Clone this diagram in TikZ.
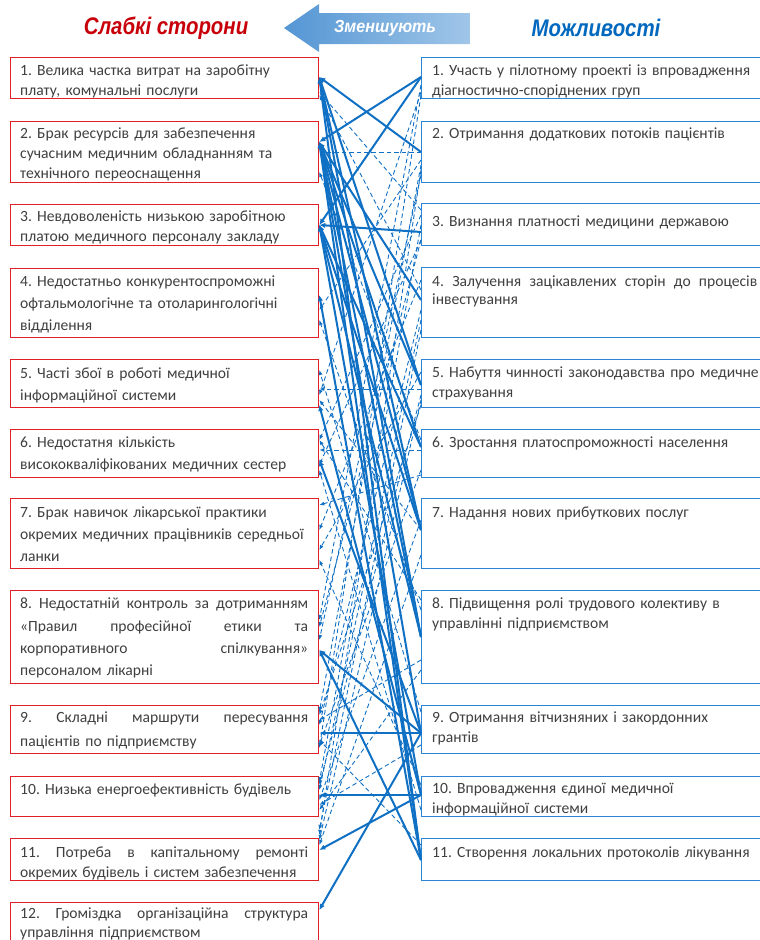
\documentclass[tikz,border=0pt]{standalone}
\usepackage{fontspec}
\setmainfont{Carlito}
\newfontfamily\titlef[FakeStretch=0.85]{Liberation Sans}
\newfontfamily\arrowf[FakeStretch=0.92]{Liberation Sans}
\usetikzlibrary{arrows.meta,calc}
\definecolor{lred}{RGB}{224,32,40}
\definecolor{rblue}{RGB}{44,132,214}
\definecolor{lnk}{RGB}{16,112,196}
\definecolor{txt}{RGB}{64,64,64}
\definecolor{tred}{RGB}{200,0,10}
\definecolor{tblue}{RGB}{0,104,190}
\definecolor{arL}{RGB}{84,150,212}
\definecolor{arR}{RGB}{160,198,232}
\frenchspacing
\tikzset{
  lbox/.style={draw=lred, line width=1.3pt, anchor=north west, minimum width=308pt, inner sep=0pt},
  rbox/.style={draw=rblue, line width=1.3pt, anchor=north west, minimum width=360pt, inner sep=0pt},
  btext/.style={anchor=north west, inner sep=0pt, align=left, text=txt,
     font=\fontsize{15.6}{20}\selectfont, execute at begin node=\rule{0pt}{13pt}},
  ltext/.style={btext, text width=300pt},
  rtext/.style={btext, text width=340pt},
  wide/.style={font=\fontsize{15.6}{22.3}\selectfont},
  sol/.style={draw=lnk, line width=2pt, -{Latex[length=6pt,width=5.5pt]}},
  dsh/.style={draw=lnk, line width=0.9pt, dash pattern=on 4.5pt off 3pt, -{Latex[length=5pt,width=4pt]}},
  ttl/.style={font=\titlef\bfseries\itshape\fontsize{24}{26}\selectfont, inner sep=0pt}
}
\newcommand{\linkS}[4]{\draw[sol] (r#1.west |- 0,#2) -- (l#3.east |- 0,#4);}
\newcommand{\linkD}[4]{\draw[dsh] (r#1.west |- 0,#2) -- (l#3.east |- 0,#4);}
\newcommand{\LJ}[1]{{\spaceskip=0.3333em plus 10em\makebox[288pt][s]{#1}}}
\newcommand{\RJ}[1]{{\spaceskip=0.3333em plus 10em\makebox[325pt][s]{#1}}}
\begin{document}
\begin{tikzpicture}[x=1pt,y=-1pt]
\useasboundingbox (0,0) rectangle (760,940);
\fill[white] (0,0) rectangle (760,940);
\clip (0,0) rectangle (760,940);
% titles
\node[ttl, text=tred] (tw) at (166,28) {Слабкі сторони};
\node[ttl, text=tblue] (to) at (596,28) {Можливості};
\shade[left color=arL, right color=arR, draw=none]
  (284,28) -- (319,4) -- (319,13) -- (470,13) -- (470,44) -- (319,44) -- (319,52) -- cycle;
\node[font=\arrowf\bfseries\itshape\fontsize{17.5}{19}\selectfont, text=white, inner sep=0pt] (tz) at (385,28) {Зменшують};
% left boxes
\node[lbox, minimum height=41pt] (l1) at (10,57) {};
\node[lbox, minimum height=61pt] (l2) at (10,121) {};
\node[lbox, minimum height=41pt] (l3) at (10,204) {};
\node[lbox, minimum height=69pt] (l4) at (10,268) {};
\node[lbox, minimum height=48pt] (l5) at (10,359) {};
\node[lbox, minimum height=48pt] (l6) at (10,429) {};
\node[lbox, minimum height=70pt] (l7) at (10,498) {};
\node[lbox, minimum height=93pt] (l8) at (10,590) {};
\node[lbox, minimum height=48pt] (l9) at (10,705) {};
\node[lbox, minimum height=40pt] (l10) at (10,776) {};
\node[lbox, minimum height=42pt] (l11) at (10,838) {};
\node[lbox, minimum height=60pt] (l12) at (10,902) {};
% right boxes
\node[rbox, minimum height=41pt] (r1) at (421,57) {};
\node[rbox, minimum height=61pt] (r2) at (421,121) {};
\node[rbox, minimum height=42pt] (r3) at (421,203) {};
\node[rbox, minimum height=70pt] (r4) at (421,267) {};
\node[rbox, minimum height=48pt] (r5) at (421,359) {};
\node[rbox, minimum height=48pt] (r6) at (421,429) {};
\node[rbox, minimum height=70pt] (r7) at (421,498) {};
\node[rbox, minimum height=93pt] (r8) at (421,590) {};
\node[rbox, minimum height=48pt] (r9) at (421,705) {};
\node[rbox, minimum height=40pt] (r10) at (421,776) {};
\node[rbox, minimum height=42pt] (r11) at (421,838) {};
% left texts
\node[ltext] (lt1) at ($(l1.north west)+(10,5)$) {1. Велика частка витрат на заробітну\\плату, комунальні послуги};
\node[ltext] (lt2) at ($(l2.north west)+(10,4)$) {2. Брак ресурсів для забезпечення\\сучасним медичним обладнанням та\\технічного переоснащення};
\node[ltext] (lt3) at ($(l3.north west)+(10,4)$) {3. Невдоволеність низькою заробітною\\платою медичного персоналу закладу};
\node[ltext, wide] (lt4) at ($(l4.north west)+(10,5)$) {4. Недостатньо конкурентоспроможні\\офтальмологічне та отоларингологічні\\відділення};
\node[ltext, wide] (lt5) at ($(l5.north west)+(10,6)$) {5. Часті збої в роботі медичної\\інформаційної системи};
\node[ltext, wide] (lt6) at ($(l6.north west)+(10,5)$) {6. Недостатня кількість\\висококваліфікованих медичних сестер};
\node[ltext, wide] (lt7) at ($(l7.north west)+(10,6)$) {7. Брак навичок лікарської практики\\окремих медичних працівників середньої\\ланки};
\node[ltext, wide] (lt8) at ($(l8.north west)+(10,5.5)$) {\LJ{8. Недостатній контроль за дотриманням}\\\LJ{«Правил професійної етики та}\\\LJ{корпоративного спілкування»}\\персоналом лікарні};
\node[ltext, font=\fontsize{15.6}{24}\selectfont] (lt9) at ($(l9.north west)+(10,4)$) {\LJ{9. Складні маршрути пересування}\\пацієнтів по підприємству};
\node[ltext] (lt10) at ($(l10.north west)+(10,5)$) {10. Низька енергоефективність будівель};
\node[ltext] (lt11) at ($(l11.north west)+(10,6)$) {\LJ{11. Потреба в капітальному ремонті}\\окремих будівель і систем забезпечення};
\node[ltext, font=\fontsize{15.6}{19}\selectfont] (lt12) at ($(l12.north west)+(10,3.5)$) {\LJ{12. Громіздка організаційна структура}\\управління підприємством};
% right texts
\node[rtext] (rt1) at ($(r1.north west)+(11,5)$) {1. Участь у пілотному проекті із впровадження\\діагностично-споріднених груп};
\node[rtext] (rt2) at ($(r2.north west)+(11,4)$) {2. Отримання додаткових потоків пацієнтів};
\node[rtext] (rt3) at ($(r3.north west)+(11,10.5)$) {3. Визнання платності медицини державою};
\node[rtext, font=\fontsize{15.6}{18.5}\selectfont] (rt4) at ($(r4.north west)+(11,6)$) {\RJ{4. Залучення зацікавлених сторін до процесів}\\інвестування};
\node[rtext] (rt5) at ($(r5.north west)+(11,5)$) {5. Набуття чинності законодавства про медичне\\страхування};
\node[rtext] (rt6) at ($(r6.north west)+(11,5)$) {6. Зростання платоспроможності населення};
\node[rtext] (rt7) at ($(r7.north west)+(11,6)$) {7. Надання нових прибуткових послуг};
\node[rtext] (rt8) at ($(r8.north west)+(11,5.5)$) {8. Підвищення ролі трудового колективу в\\управлінні підприємством};
\node[rtext] (rt9) at ($(r9.north west)+(11,4)$) {9. Отримання вітчизняних і закордонних\\грантів};
\node[rtext] (rt10) at ($(r10.north west)+(11,4)$) {10. Впровадження єдиної медичної\\інформаційної системи};
\node[rtext] (rt11) at ($(r11.north west)+(11,6)$) {11. Створення локальних протоколів лікування};
% dashed links
\linkD{2}{152}{2}{152}
\linkD{5}{389}{5}{389}
\linkD{6}{450}{6}{450}
\linkD{2}{160}{4}{310}
\linkD{3}{215}{6}{440}
\linkD{1}{92}{5}{395}
\linkD{4}{280}{7}{530}
\linkD{5}{372}{7}{550}
\linkD{3}{240}{8}{627}
\linkD{6}{470}{9}{745}
\linkD{4}{320}{10}{790}
\linkD{7}{520}{10}{800}
\linkD{2}{170}{11}{835}
\linkD{5}{400}{11}{840}
\linkD{3}{240}{6}{465}
\linkD{8}{600}{6}{440}
\linkD{7}{530}{5}{400}
\linkD{8}{660}{9}{720}
\linkD{9}{745}{10}{805}
\linkD{1}{95}{9}{748}
\linkD{4}{330}{11}{830}
\linkD{6}{475}{7}{505}
\linkD{3}{210}{1}{92}
\linkD{4}{290}{1}{95}
\linkD{6}{440}{2}{172}
\linkD{8}{670}{10}{810}
\linkD{7}{555}{11}{845}
\linkD{2}{175}{8}{640}
\linkD{5}{395}{10}{785}
\linkD{4}{310}{9}{725}
\linkD{1}{85}{8}{620}
\linkD{2}{165}{9}{712}
\linkD{3}{225}{10}{782}
\linkD{5}{405}{9}{715}
\linkD{8}{610}{4}{320}
\linkD{9}{712}{5}{370}
\linkD{10}{785}{7}{560}
\linkD{11}{845}{9}{740}
\linkD{10}{810}{6}{470}
% solid links
\linkS{2}{152}{1}{77}
\linkS{1}{77}{2}{142}
\linkS{1}{77}{3}{225}
\linkS{3}{232}{3}{225}
\linkS{4}{300}{2}{142}
\linkS{5}{385}{1}{77}
\linkS{5}{385}{2}{142}
\linkS{6}{447}{2}{142}
\linkS{6}{447}{3}{225}
\linkS{7}{530}{1}{77}
\linkS{7}{530}{2}{142}
\linkS{7}{530}{3}{225}
\linkS{8}{637}{1}{77}
\linkS{8}{637}{2}{142}
\linkS{8}{637}{3}{225}
\linkS{9}{733}{2}{142}
\linkS{9}{733}{9}{733}
\linkS{9}{733}{12}{910}
\linkS{9}{733}{8}{650}
\linkS{9}{733}{6}{460}
\linkS{10}{795}{10}{795}
\linkS{10}{795}{11}{850}
\linkS{10}{795}{3}{225}
\linkS{10}{795}{5}{405}
\linkS{11}{860}{4}{295}
\linkS{11}{860}{8}{650}
\linkS{11}{860}{1}{77}
\linkS{11}{860}{2}{142}
\end{tikzpicture}
\end{document}
